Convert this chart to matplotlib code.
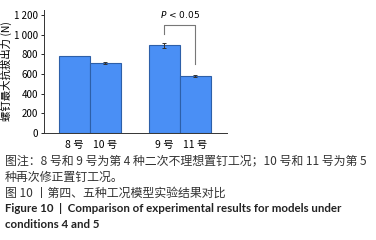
import matplotlib.pyplot as plt
import matplotlib as mpl

mpl.rcParams["font.family"] = ["Noto Sans CJK SC", "DejaVu Sans"]

# data
labels = ["8 号", "10 号", "9 号", "11 号"]
positions = [0, 1, 2.9, 3.9]
values = [780, 710, 890, 580]
errors = [0, 10, 30, 12]
yticks = [0, 200, 400, 600, 800, 1000, 1200]
ytick_labels = ["0", "200", "400", "600", "800", "1 000", "1 200"]

captions = [
    ("图注：8 号和 9 号为第 4 种二次不理想置钉工况；10 号和 11 号为第 5", "cn"),
    ("种再次修正置钉工况。", "cn"),
    ("图 10 丨第四、五种工况模型实验结果对比", "cn"),
    ("Figure 10  |  Comparison of experimental results for models under", "en"),
    ("conditions 4 and 5", "en"),
]

fig = plt.figure(figsize=(3.76, 2.4), dpi=100)
ax = fig.add_axes([0.117, 0.446, 0.487, 0.512])

ax.bar(positions, values, width=1.0, color="#4a8ff5", edgecolor="#2d5fa8", linewidth=0.8)
# only bars with a visible spread get error bars
err_idx = [i for i, e in enumerate(errors) if e > 0]
ax.errorbar([positions[i] for i in err_idx], [values[i] for i in err_idx],
            yerr=[errors[i] for i in err_idx], fmt="none", ecolor="#333333",
            elinewidth=0.7, capsize=1.5, capthick=0.7)

# significance bracket
bx = [positions[2], positions[2], positions[3], positions[3]]
by = [1010, 1100, 1100, 700]
ax.plot(bx, by, color="#777777", linewidth=0.8)
ax.text((positions[2] + positions[3]) / 2, 1150, "$P$ < 0.05", ha="center", va="bottom",
        fontsize=6.5, family="DejaVu Sans")

ax.set_xlim(-0.98, 4.92)
ax.set_ylim(0, 1250)
ax.set_yticks(yticks)
ax.set_yticklabels(ytick_labels, fontsize=7)
ax.set_xticks(positions)
ax.set_xticklabels(labels, fontsize=7.5)
ax.tick_params(axis="x", length=0, pad=5)
ax.tick_params(axis="y", length=2.5, width=0.6, pad=1.5)
ax.spines["top"].set_visible(False)
ax.spines["right"].set_visible(False)
for s in ["left", "bottom"]:
    ax.spines[s].set_linewidth(0.7)
    ax.spines[s].set_color("#333333")
ax.set_ylabel("螺钉最大抗拔出力 (N)", fontsize=7.5, labelpad=2)

y0 = 1 - 161 / 240
for i, (txt, kind) in enumerate(captions):
    y = y0 - i * 16 / 240
    if kind == "cn":
        fig.text(0.013, y, txt, fontsize=8.6, color="#333333", va="center", ha="left")
    else:
        fig.text(0.013, y, txt, fontsize=8.3, fontweight="bold", color="#222222",
                 va="center", ha="left", family=["Lato", "DejaVu Sans"])

fig.savefig("out.png", dpi=100)
